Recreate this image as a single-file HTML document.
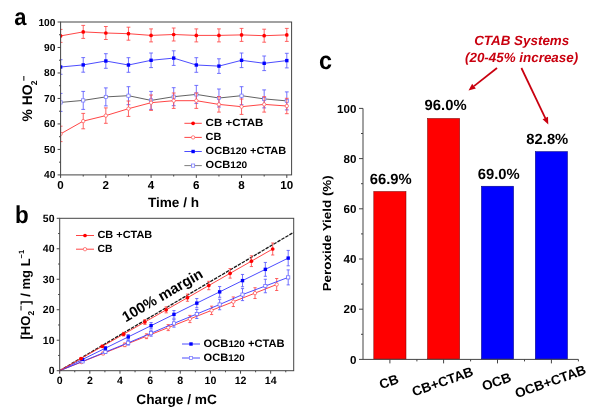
<!DOCTYPE html>
<html><head><meta charset="utf-8"><title>figure</title>
<style>
html,body{margin:0;padding:0;background:#fff;}
body{width:600px;height:413px;overflow:hidden;font-family:"Liberation Sans",sans-serif;}
svg{display:block;filter:blur(0.45px);}
</style></head><body>
<svg width="600" height="413" viewBox="0 0 600 413" text-rendering="geometricPrecision">
<rect width="600" height="413" fill="#fff"/>
<line x1="57.6" y1="174.90" x2="60.6" y2="174.90" stroke="#444444" stroke-width="1"/>
<text x="55.4" y="178.40" font-size="10.2" font-weight="bold" text-anchor="end" font-family="Liberation Sans, sans-serif">40</text>
<line x1="57.6" y1="149.42" x2="60.6" y2="149.42" stroke="#444444" stroke-width="1"/>
<text x="55.4" y="152.92" font-size="10.2" font-weight="bold" text-anchor="end" font-family="Liberation Sans, sans-serif">50</text>
<line x1="57.6" y1="123.93" x2="60.6" y2="123.93" stroke="#444444" stroke-width="1"/>
<text x="55.4" y="127.43" font-size="10.2" font-weight="bold" text-anchor="end" font-family="Liberation Sans, sans-serif">60</text>
<line x1="57.6" y1="98.45" x2="60.6" y2="98.45" stroke="#444444" stroke-width="1"/>
<text x="55.4" y="101.95" font-size="10.2" font-weight="bold" text-anchor="end" font-family="Liberation Sans, sans-serif">70</text>
<line x1="57.6" y1="72.97" x2="60.6" y2="72.97" stroke="#444444" stroke-width="1"/>
<text x="55.4" y="76.47" font-size="10.2" font-weight="bold" text-anchor="end" font-family="Liberation Sans, sans-serif">80</text>
<line x1="57.6" y1="47.48" x2="60.6" y2="47.48" stroke="#444444" stroke-width="1"/>
<text x="55.4" y="50.98" font-size="10.2" font-weight="bold" text-anchor="end" font-family="Liberation Sans, sans-serif">90</text>
<line x1="57.6" y1="22.00" x2="60.6" y2="22.00" stroke="#444444" stroke-width="1"/>
<text x="55.4" y="25.50" font-size="10.2" font-weight="bold" text-anchor="end" font-family="Liberation Sans, sans-serif">100</text>
<line x1="59.0" y1="162.16" x2="60.6" y2="162.16" stroke="#444444" stroke-width="1"/>
<line x1="59.0" y1="136.68" x2="60.6" y2="136.68" stroke="#444444" stroke-width="1"/>
<line x1="59.0" y1="111.19" x2="60.6" y2="111.19" stroke="#444444" stroke-width="1"/>
<line x1="59.0" y1="85.71" x2="60.6" y2="85.71" stroke="#444444" stroke-width="1"/>
<line x1="59.0" y1="60.23" x2="60.6" y2="60.23" stroke="#444444" stroke-width="1"/>
<line x1="59.0" y1="34.74" x2="60.6" y2="34.74" stroke="#444444" stroke-width="1"/>
<line x1="60.60" y1="174.9" x2="60.60" y2="177.9" stroke="#444444" stroke-width="1"/>
<text x="60.60" y="189.4" font-size="11.6" font-weight="bold" text-anchor="middle" font-family="Liberation Sans, sans-serif">0</text>
<line x1="83.22" y1="174.9" x2="83.22" y2="176.5" stroke="#444444" stroke-width="1"/>
<line x1="105.84" y1="174.9" x2="105.84" y2="177.9" stroke="#444444" stroke-width="1"/>
<text x="105.84" y="189.4" font-size="11.6" font-weight="bold" text-anchor="middle" font-family="Liberation Sans, sans-serif">2</text>
<line x1="128.46" y1="174.9" x2="128.46" y2="176.5" stroke="#444444" stroke-width="1"/>
<line x1="151.08" y1="174.9" x2="151.08" y2="177.9" stroke="#444444" stroke-width="1"/>
<text x="151.08" y="189.4" font-size="11.6" font-weight="bold" text-anchor="middle" font-family="Liberation Sans, sans-serif">4</text>
<line x1="173.70" y1="174.9" x2="173.70" y2="176.5" stroke="#444444" stroke-width="1"/>
<line x1="196.32" y1="174.9" x2="196.32" y2="177.9" stroke="#444444" stroke-width="1"/>
<text x="196.32" y="189.4" font-size="11.6" font-weight="bold" text-anchor="middle" font-family="Liberation Sans, sans-serif">6</text>
<line x1="218.94" y1="174.9" x2="218.94" y2="176.5" stroke="#444444" stroke-width="1"/>
<line x1="241.56" y1="174.9" x2="241.56" y2="177.9" stroke="#444444" stroke-width="1"/>
<text x="241.56" y="189.4" font-size="11.6" font-weight="bold" text-anchor="middle" font-family="Liberation Sans, sans-serif">8</text>
<line x1="264.18" y1="174.9" x2="264.18" y2="176.5" stroke="#444444" stroke-width="1"/>
<line x1="286.80" y1="174.9" x2="286.80" y2="177.9" stroke="#444444" stroke-width="1"/>
<text x="286.80" y="189.4" font-size="11.6" font-weight="bold" text-anchor="middle" font-family="Liberation Sans, sans-serif">10</text>
<clipPath id="ca"><rect x="60.6" y="22.0" width="231.00" height="152.90"/></clipPath>
<g clip-path="url(#ca)">
<polyline points="60.60,102.40 83.22,100.40 105.84,96.90 128.46,95.70 151.08,100.40 173.70,96.70 196.32,94.40 218.94,98.00 241.56,95.70 264.18,98.90 286.80,100.90" fill="none" stroke="#505050" stroke-width="0.9"/>
<path d="M60.60 93.40V111.40M58.70 93.40h3.8M58.70 111.40h3.8" stroke="#5a5aff" stroke-width="0.85" fill="none"/>
<path d="M83.22 91.40V109.40M81.32 91.40h3.8M81.32 109.40h3.8" stroke="#5a5aff" stroke-width="0.85" fill="none"/>
<path d="M105.84 87.90V105.90M103.94 87.90h3.8M103.94 105.90h3.8" stroke="#5a5aff" stroke-width="0.85" fill="none"/>
<path d="M128.46 86.70V104.70M126.56 86.70h3.8M126.56 104.70h3.8" stroke="#5a5aff" stroke-width="0.85" fill="none"/>
<path d="M151.08 91.40V109.40M149.18 91.40h3.8M149.18 109.40h3.8" stroke="#5a5aff" stroke-width="0.85" fill="none"/>
<path d="M173.70 87.70V105.70M171.80 87.70h3.8M171.80 105.70h3.8" stroke="#5a5aff" stroke-width="0.85" fill="none"/>
<path d="M196.32 85.40V103.40M194.42 85.40h3.8M194.42 103.40h3.8" stroke="#5a5aff" stroke-width="0.85" fill="none"/>
<path d="M218.94 89.00V107.00M217.04 89.00h3.8M217.04 107.00h3.8" stroke="#5a5aff" stroke-width="0.85" fill="none"/>
<path d="M241.56 86.70V104.70M239.66 86.70h3.8M239.66 104.70h3.8" stroke="#5a5aff" stroke-width="0.85" fill="none"/>
<path d="M264.18 89.90V107.90M262.28 89.90h3.8M262.28 107.90h3.8" stroke="#5a5aff" stroke-width="0.85" fill="none"/>
<path d="M286.80 91.90V109.90M284.90 91.90h3.8M284.90 109.90h3.8" stroke="#5a5aff" stroke-width="0.85" fill="none"/>
<rect x="59.00" y="100.80" width="3.2" height="3.2" fill="#fff" stroke="#7070ff" stroke-width="0.7"/>
<rect x="81.62" y="98.80" width="3.2" height="3.2" fill="#fff" stroke="#7070ff" stroke-width="0.7"/>
<rect x="104.24" y="95.30" width="3.2" height="3.2" fill="#fff" stroke="#7070ff" stroke-width="0.7"/>
<rect x="126.86" y="94.10" width="3.2" height="3.2" fill="#fff" stroke="#7070ff" stroke-width="0.7"/>
<rect x="149.48" y="98.80" width="3.2" height="3.2" fill="#fff" stroke="#7070ff" stroke-width="0.7"/>
<rect x="172.10" y="95.10" width="3.2" height="3.2" fill="#fff" stroke="#7070ff" stroke-width="0.7"/>
<rect x="194.72" y="92.80" width="3.2" height="3.2" fill="#fff" stroke="#7070ff" stroke-width="0.7"/>
<rect x="217.34" y="96.40" width="3.2" height="3.2" fill="#fff" stroke="#7070ff" stroke-width="0.7"/>
<rect x="239.96" y="94.10" width="3.2" height="3.2" fill="#fff" stroke="#7070ff" stroke-width="0.7"/>
<rect x="262.58" y="97.30" width="3.2" height="3.2" fill="#fff" stroke="#7070ff" stroke-width="0.7"/>
<rect x="285.20" y="99.30" width="3.2" height="3.2" fill="#fff" stroke="#7070ff" stroke-width="0.7"/>
<polyline points="60.60,133.90 83.22,121.10 105.84,115.60 128.46,108.70 151.08,102.70 173.70,100.70 196.32,100.70 218.94,104.40 241.56,106.70 264.18,104.40 286.80,106.00" fill="none" stroke="#ff3030" stroke-width="0.9"/>
<path d="M60.60 126.20V141.60M58.70 126.20h3.8M58.70 141.60h3.8" stroke="#ff4848" stroke-width="0.85" fill="none"/>
<path d="M83.22 113.40V128.80M81.32 113.40h3.8M81.32 128.80h3.8" stroke="#ff4848" stroke-width="0.85" fill="none"/>
<path d="M105.84 107.90V123.30M103.94 107.90h3.8M103.94 123.30h3.8" stroke="#ff4848" stroke-width="0.85" fill="none"/>
<path d="M128.46 101.00V116.40M126.56 101.00h3.8M126.56 116.40h3.8" stroke="#ff4848" stroke-width="0.85" fill="none"/>
<path d="M151.08 95.00V110.40M149.18 95.00h3.8M149.18 110.40h3.8" stroke="#ff4848" stroke-width="0.85" fill="none"/>
<path d="M173.70 93.00V108.40M171.80 93.00h3.8M171.80 108.40h3.8" stroke="#ff4848" stroke-width="0.85" fill="none"/>
<path d="M196.32 93.00V108.40M194.42 93.00h3.8M194.42 108.40h3.8" stroke="#ff4848" stroke-width="0.85" fill="none"/>
<path d="M218.94 96.70V112.10M217.04 96.70h3.8M217.04 112.10h3.8" stroke="#ff4848" stroke-width="0.85" fill="none"/>
<path d="M241.56 99.00V114.40M239.66 99.00h3.8M239.66 114.40h3.8" stroke="#ff4848" stroke-width="0.85" fill="none"/>
<path d="M264.18 96.70V112.10M262.28 96.70h3.8M262.28 112.10h3.8" stroke="#ff4848" stroke-width="0.85" fill="none"/>
<path d="M286.80 98.30V113.70M284.90 98.30h3.8M284.90 113.70h3.8" stroke="#ff4848" stroke-width="0.85" fill="none"/>
<circle cx="60.60" cy="133.90" r="1.7" fill="#fff" stroke="#ff5050" stroke-width="0.7"/>
<circle cx="83.22" cy="121.10" r="1.7" fill="#fff" stroke="#ff5050" stroke-width="0.7"/>
<circle cx="105.84" cy="115.60" r="1.7" fill="#fff" stroke="#ff5050" stroke-width="0.7"/>
<circle cx="128.46" cy="108.70" r="1.7" fill="#fff" stroke="#ff5050" stroke-width="0.7"/>
<circle cx="151.08" cy="102.70" r="1.7" fill="#fff" stroke="#ff5050" stroke-width="0.7"/>
<circle cx="173.70" cy="100.70" r="1.7" fill="#fff" stroke="#ff5050" stroke-width="0.7"/>
<circle cx="196.32" cy="100.70" r="1.7" fill="#fff" stroke="#ff5050" stroke-width="0.7"/>
<circle cx="218.94" cy="104.40" r="1.7" fill="#fff" stroke="#ff5050" stroke-width="0.7"/>
<circle cx="241.56" cy="106.70" r="1.7" fill="#fff" stroke="#ff5050" stroke-width="0.7"/>
<circle cx="264.18" cy="104.40" r="1.7" fill="#fff" stroke="#ff5050" stroke-width="0.7"/>
<circle cx="286.80" cy="106.00" r="1.7" fill="#fff" stroke="#ff5050" stroke-width="0.7"/>
<polyline points="60.60,67.00 83.22,64.90 105.84,61.00 128.46,65.00 151.08,60.30 173.70,58.10 196.32,65.00 218.94,66.10 241.56,60.30 264.18,63.30 286.80,60.60" fill="none" stroke="#3838ff" stroke-width="0.9"/>
<path d="M60.60 59.70V74.30M58.70 59.70h3.8M58.70 74.30h3.8" stroke="#5a5aff" stroke-width="0.85" fill="none"/>
<path d="M83.22 57.60V72.20M81.32 57.60h3.8M81.32 72.20h3.8" stroke="#5a5aff" stroke-width="0.85" fill="none"/>
<path d="M105.84 53.70V68.30M103.94 53.70h3.8M103.94 68.30h3.8" stroke="#5a5aff" stroke-width="0.85" fill="none"/>
<path d="M128.46 57.70V72.30M126.56 57.70h3.8M126.56 72.30h3.8" stroke="#5a5aff" stroke-width="0.85" fill="none"/>
<path d="M151.08 53.00V67.60M149.18 53.00h3.8M149.18 67.60h3.8" stroke="#5a5aff" stroke-width="0.85" fill="none"/>
<path d="M173.70 50.80V65.40M171.80 50.80h3.8M171.80 65.40h3.8" stroke="#5a5aff" stroke-width="0.85" fill="none"/>
<path d="M196.32 57.70V72.30M194.42 57.70h3.8M194.42 72.30h3.8" stroke="#5a5aff" stroke-width="0.85" fill="none"/>
<path d="M218.94 58.80V73.40M217.04 58.80h3.8M217.04 73.40h3.8" stroke="#5a5aff" stroke-width="0.85" fill="none"/>
<path d="M241.56 53.00V67.60M239.66 53.00h3.8M239.66 67.60h3.8" stroke="#5a5aff" stroke-width="0.85" fill="none"/>
<path d="M264.18 56.00V70.60M262.28 56.00h3.8M262.28 70.60h3.8" stroke="#5a5aff" stroke-width="0.85" fill="none"/>
<path d="M286.80 53.30V67.90M284.90 53.30h3.8M284.90 67.90h3.8" stroke="#5a5aff" stroke-width="0.85" fill="none"/>
<rect x="58.90" y="65.30" width="3.4" height="3.4" fill="#0000ff"/>
<rect x="81.52" y="63.20" width="3.4" height="3.4" fill="#0000ff"/>
<rect x="104.14" y="59.30" width="3.4" height="3.4" fill="#0000ff"/>
<rect x="126.76" y="63.30" width="3.4" height="3.4" fill="#0000ff"/>
<rect x="149.38" y="58.60" width="3.4" height="3.4" fill="#0000ff"/>
<rect x="172.00" y="56.40" width="3.4" height="3.4" fill="#0000ff"/>
<rect x="194.62" y="63.30" width="3.4" height="3.4" fill="#0000ff"/>
<rect x="217.24" y="64.40" width="3.4" height="3.4" fill="#0000ff"/>
<rect x="239.86" y="58.60" width="3.4" height="3.4" fill="#0000ff"/>
<rect x="262.48" y="61.60" width="3.4" height="3.4" fill="#0000ff"/>
<rect x="285.10" y="58.90" width="3.4" height="3.4" fill="#0000ff"/>
<polyline points="60.60,35.90 83.22,31.90 105.84,33.00 128.46,33.70 151.08,35.40 173.70,34.50 196.32,35.40 218.94,35.40 241.56,34.90 264.18,35.70 286.80,34.90" fill="none" stroke="#ff3030" stroke-width="0.9"/>
<path d="M60.60 29.40V42.40M58.70 29.40h3.8M58.70 42.40h3.8" stroke="#ff4848" stroke-width="0.85" fill="none"/>
<path d="M83.22 25.40V38.40M81.32 25.40h3.8M81.32 38.40h3.8" stroke="#ff4848" stroke-width="0.85" fill="none"/>
<path d="M105.84 26.50V39.50M103.94 26.50h3.8M103.94 39.50h3.8" stroke="#ff4848" stroke-width="0.85" fill="none"/>
<path d="M128.46 27.20V40.20M126.56 27.20h3.8M126.56 40.20h3.8" stroke="#ff4848" stroke-width="0.85" fill="none"/>
<path d="M151.08 28.90V41.90M149.18 28.90h3.8M149.18 41.90h3.8" stroke="#ff4848" stroke-width="0.85" fill="none"/>
<path d="M173.70 28.00V41.00M171.80 28.00h3.8M171.80 41.00h3.8" stroke="#ff4848" stroke-width="0.85" fill="none"/>
<path d="M196.32 28.90V41.90M194.42 28.90h3.8M194.42 41.90h3.8" stroke="#ff4848" stroke-width="0.85" fill="none"/>
<path d="M218.94 28.90V41.90M217.04 28.90h3.8M217.04 41.90h3.8" stroke="#ff4848" stroke-width="0.85" fill="none"/>
<path d="M241.56 28.40V41.40M239.66 28.40h3.8M239.66 41.40h3.8" stroke="#ff4848" stroke-width="0.85" fill="none"/>
<path d="M264.18 29.20V42.20M262.28 29.20h3.8M262.28 42.20h3.8" stroke="#ff4848" stroke-width="0.85" fill="none"/>
<path d="M286.80 28.40V41.40M284.90 28.40h3.8M284.90 41.40h3.8" stroke="#ff4848" stroke-width="0.85" fill="none"/>
<circle cx="60.60" cy="35.90" r="1.85" fill="#ff0000"/>
<circle cx="83.22" cy="31.90" r="1.85" fill="#ff0000"/>
<circle cx="105.84" cy="33.00" r="1.85" fill="#ff0000"/>
<circle cx="128.46" cy="33.70" r="1.85" fill="#ff0000"/>
<circle cx="151.08" cy="35.40" r="1.85" fill="#ff0000"/>
<circle cx="173.70" cy="34.50" r="1.85" fill="#ff0000"/>
<circle cx="196.32" cy="35.40" r="1.85" fill="#ff0000"/>
<circle cx="218.94" cy="35.40" r="1.85" fill="#ff0000"/>
<circle cx="241.56" cy="34.90" r="1.85" fill="#ff0000"/>
<circle cx="264.18" cy="35.70" r="1.85" fill="#ff0000"/>
<circle cx="286.80" cy="34.90" r="1.85" fill="#ff0000"/>
</g>
<rect x="60.6" y="22.0" width="231.00" height="152.90" fill="none" stroke="#444444" stroke-width="1"/>
<line x1="184.4" y1="123.3" x2="201.8" y2="123.3" stroke="#ff3030" stroke-width="0.9"/><circle cx="193.10000000000002" cy="123.3" r="1.85" fill="#ff0000"/><text x="205.6" y="126.00" font-size="10.4" font-weight="bold" textLength="57.8" lengthAdjust="spacingAndGlyphs" font-family="Liberation Sans, sans-serif">CB +CTAB</text>
<line x1="184.4" y1="137.4" x2="201.8" y2="137.4" stroke="#ff3030" stroke-width="0.9"/><circle cx="193.10000000000002" cy="137.4" r="1.7" fill="#fff" stroke="#ff5050" stroke-width="0.7"/><text x="205.6" y="140.10" font-size="10.4" font-weight="bold" textLength="15.8" lengthAdjust="spacingAndGlyphs" font-family="Liberation Sans, sans-serif">CB</text>
<line x1="184.4" y1="151.5" x2="201.8" y2="151.5" stroke="#3838ff" stroke-width="0.9"/><rect x="191.40" y="149.80" width="3.4" height="3.4" fill="#0000ff"/><text x="205.6" y="154.20" font-size="10.4" font-weight="bold" textLength="80.7" lengthAdjust="spacingAndGlyphs" font-family="Liberation Sans, sans-serif">OCB<tspan font-size="9.5">120</tspan> +CTAB</text>
<line x1="184.4" y1="165.6" x2="201.8" y2="165.6" stroke="#707070" stroke-width="0.9"/><rect x="191.50" y="164.00" width="3.2" height="3.2" fill="#fff" stroke="#7070ff" stroke-width="0.7"/><text x="205.6" y="168.30" font-size="10.4" font-weight="bold" textLength="41.6" lengthAdjust="spacingAndGlyphs" font-family="Liberation Sans, sans-serif">OCB<tspan font-size="9.5">120</tspan></text>
<text x="14.2" y="25" font-size="23.6" font-weight="bold" textLength="12.2" lengthAdjust="spacingAndGlyphs" font-family="Liberation Sans, sans-serif">a</text>
<text x="173.5" y="206.8" font-size="13.6" font-weight="bold" text-anchor="middle" font-family="Liberation Sans, sans-serif">Time / h</text>
<text transform="translate(32,121.5) rotate(-90)" font-size="13.9" font-weight="bold" font-family="Liberation Sans, sans-serif">% HO<tspan font-size="8.5" dy="4.6" dx="-0.9">2</tspan><tspan font-size="9.5" dy="-10.1" dx="-0.6">−</tspan></text>
<line x1="56.7" y1="370.70" x2="59.7" y2="370.70" stroke="#444444" stroke-width="1"/>
<text x="54.5" y="374.30" font-size="10.5" font-weight="bold" text-anchor="end" font-family="Liberation Sans, sans-serif">0</text>
<line x1="56.7" y1="340.22" x2="59.7" y2="340.22" stroke="#444444" stroke-width="1"/>
<text x="54.5" y="343.82" font-size="10.5" font-weight="bold" text-anchor="end" font-family="Liberation Sans, sans-serif">10</text>
<line x1="56.7" y1="309.74" x2="59.7" y2="309.74" stroke="#444444" stroke-width="1"/>
<text x="54.5" y="313.34" font-size="10.5" font-weight="bold" text-anchor="end" font-family="Liberation Sans, sans-serif">20</text>
<line x1="56.7" y1="279.26" x2="59.7" y2="279.26" stroke="#444444" stroke-width="1"/>
<text x="54.5" y="282.86" font-size="10.5" font-weight="bold" text-anchor="end" font-family="Liberation Sans, sans-serif">30</text>
<line x1="56.7" y1="248.78" x2="59.7" y2="248.78" stroke="#444444" stroke-width="1"/>
<text x="54.5" y="252.38" font-size="10.5" font-weight="bold" text-anchor="end" font-family="Liberation Sans, sans-serif">40</text>
<line x1="56.7" y1="218.30" x2="59.7" y2="218.30" stroke="#444444" stroke-width="1"/>
<text x="54.5" y="221.90" font-size="10.5" font-weight="bold" text-anchor="end" font-family="Liberation Sans, sans-serif">50</text>
<line x1="58.1" y1="355.46" x2="59.7" y2="355.46" stroke="#444444" stroke-width="1"/>
<line x1="58.1" y1="324.98" x2="59.7" y2="324.98" stroke="#444444" stroke-width="1"/>
<line x1="58.1" y1="294.50" x2="59.7" y2="294.50" stroke="#444444" stroke-width="1"/>
<line x1="58.1" y1="264.02" x2="59.7" y2="264.02" stroke="#444444" stroke-width="1"/>
<line x1="58.1" y1="233.54" x2="59.7" y2="233.54" stroke="#444444" stroke-width="1"/>
<line x1="59.70" y1="370.7" x2="59.70" y2="373.7" stroke="#444444" stroke-width="1"/>
<text x="59.70" y="384.4" font-size="10.6" font-weight="bold" text-anchor="middle" font-family="Liberation Sans, sans-serif">0</text>
<line x1="74.77" y1="370.7" x2="74.77" y2="372.3" stroke="#444444" stroke-width="1"/>
<line x1="89.84" y1="370.7" x2="89.84" y2="373.7" stroke="#444444" stroke-width="1"/>
<text x="89.84" y="384.4" font-size="10.6" font-weight="bold" text-anchor="middle" font-family="Liberation Sans, sans-serif">2</text>
<line x1="104.91" y1="370.7" x2="104.91" y2="372.3" stroke="#444444" stroke-width="1"/>
<line x1="119.98" y1="370.7" x2="119.98" y2="373.7" stroke="#444444" stroke-width="1"/>
<text x="119.98" y="384.4" font-size="10.6" font-weight="bold" text-anchor="middle" font-family="Liberation Sans, sans-serif">4</text>
<line x1="135.05" y1="370.7" x2="135.05" y2="372.3" stroke="#444444" stroke-width="1"/>
<line x1="150.12" y1="370.7" x2="150.12" y2="373.7" stroke="#444444" stroke-width="1"/>
<text x="150.12" y="384.4" font-size="10.6" font-weight="bold" text-anchor="middle" font-family="Liberation Sans, sans-serif">6</text>
<line x1="165.19" y1="370.7" x2="165.19" y2="372.3" stroke="#444444" stroke-width="1"/>
<line x1="180.26" y1="370.7" x2="180.26" y2="373.7" stroke="#444444" stroke-width="1"/>
<text x="180.26" y="384.4" font-size="10.6" font-weight="bold" text-anchor="middle" font-family="Liberation Sans, sans-serif">8</text>
<line x1="195.33" y1="370.7" x2="195.33" y2="372.3" stroke="#444444" stroke-width="1"/>
<line x1="210.40" y1="370.7" x2="210.40" y2="373.7" stroke="#444444" stroke-width="1"/>
<text x="210.40" y="384.4" font-size="10.6" font-weight="bold" text-anchor="middle" font-family="Liberation Sans, sans-serif">10</text>
<line x1="225.47" y1="370.7" x2="225.47" y2="372.3" stroke="#444444" stroke-width="1"/>
<line x1="240.54" y1="370.7" x2="240.54" y2="373.7" stroke="#444444" stroke-width="1"/>
<text x="240.54" y="384.4" font-size="10.6" font-weight="bold" text-anchor="middle" font-family="Liberation Sans, sans-serif">12</text>
<line x1="255.61" y1="370.7" x2="255.61" y2="372.3" stroke="#444444" stroke-width="1"/>
<line x1="270.68" y1="370.7" x2="270.68" y2="373.7" stroke="#444444" stroke-width="1"/>
<text x="270.68" y="384.4" font-size="10.6" font-weight="bold" text-anchor="middle" font-family="Liberation Sans, sans-serif">14</text>
<line x1="285.75" y1="370.7" x2="285.75" y2="372.3" stroke="#444444" stroke-width="1"/>
<line x1="59.7" y1="370.7" x2="293.7" y2="232.3" stroke="#1a1a1a" stroke-width="1.3" stroke-dasharray="3.5 1.1"/>
<polyline points="59.70,370.70 81.40,362.08 103.10,353.46 124.80,344.84 146.50,336.22 168.20,327.60 189.90,318.98 211.60,310.36 233.30,301.74 255.00,293.12 276.70,284.50" fill="none" stroke="#ff3030" stroke-width="0.9"/>
<path d="M81.40 361.48V362.68M79.80 361.48h3.2M79.80 362.68h3.2" stroke="#ff4848" stroke-width="0.85" fill="none"/>
<path d="M103.10 352.26V354.66M101.50 352.26h3.2M101.50 354.66h3.2" stroke="#ff4848" stroke-width="0.85" fill="none"/>
<path d="M124.80 343.04V346.64M123.20 343.04h3.2M123.20 346.64h3.2" stroke="#ff4848" stroke-width="0.85" fill="none"/>
<path d="M146.50 333.82V338.62M144.90 333.82h3.2M144.90 338.62h3.2" stroke="#ff4848" stroke-width="0.85" fill="none"/>
<path d="M168.20 324.60V330.60M166.60 324.60h3.2M166.60 330.60h3.2" stroke="#ff4848" stroke-width="0.85" fill="none"/>
<path d="M189.90 315.38V322.58M188.30 315.38h3.2M188.30 322.58h3.2" stroke="#ff4848" stroke-width="0.85" fill="none"/>
<path d="M211.60 306.16V314.56M210.00 306.16h3.2M210.00 314.56h3.2" stroke="#ff4848" stroke-width="0.85" fill="none"/>
<path d="M233.30 296.94V306.54M231.70 296.94h3.2M231.70 306.54h3.2" stroke="#ff4848" stroke-width="0.85" fill="none"/>
<path d="M255.00 287.72V298.52M253.40 287.72h3.2M253.40 298.52h3.2" stroke="#ff4848" stroke-width="0.85" fill="none"/>
<path d="M276.70 278.50V290.50M275.10 278.50h3.2M275.10 290.50h3.2" stroke="#ff4848" stroke-width="0.85" fill="none"/>
<circle cx="81.40" cy="362.08" r="1.7" fill="#fff" stroke="#ff5050" stroke-width="0.7"/>
<circle cx="103.10" cy="353.46" r="1.7" fill="#fff" stroke="#ff5050" stroke-width="0.7"/>
<circle cx="124.80" cy="344.84" r="1.7" fill="#fff" stroke="#ff5050" stroke-width="0.7"/>
<circle cx="146.50" cy="336.22" r="1.7" fill="#fff" stroke="#ff5050" stroke-width="0.7"/>
<circle cx="168.20" cy="327.60" r="1.7" fill="#fff" stroke="#ff5050" stroke-width="0.7"/>
<circle cx="189.90" cy="318.98" r="1.7" fill="#fff" stroke="#ff5050" stroke-width="0.7"/>
<circle cx="211.60" cy="310.36" r="1.7" fill="#fff" stroke="#ff5050" stroke-width="0.7"/>
<circle cx="233.30" cy="301.74" r="1.7" fill="#fff" stroke="#ff5050" stroke-width="0.7"/>
<circle cx="255.00" cy="293.12" r="1.7" fill="#fff" stroke="#ff5050" stroke-width="0.7"/>
<circle cx="276.70" cy="284.50" r="1.7" fill="#fff" stroke="#ff5050" stroke-width="0.7"/>
<polyline points="59.70,370.70 82.55,361.40 105.40,352.00 128.25,342.80 151.10,333.20 173.95,323.40 196.80,314.00 219.65,304.50 242.50,294.60 265.35,286.00 288.20,277.40" fill="none" stroke="#3838ff" stroke-width="0.9"/>
<path d="M82.55 360.65V362.15M80.95 360.65h3.2M80.95 362.15h3.2" stroke="#5a5aff" stroke-width="0.85" fill="none"/>
<path d="M105.40 350.50V353.50M103.80 350.50h3.2M103.80 353.50h3.2" stroke="#5a5aff" stroke-width="0.85" fill="none"/>
<path d="M128.25 340.55V345.05M126.65 340.55h3.2M126.65 345.05h3.2" stroke="#5a5aff" stroke-width="0.85" fill="none"/>
<path d="M151.10 330.20V336.20M149.50 330.20h3.2M149.50 336.20h3.2" stroke="#5a5aff" stroke-width="0.85" fill="none"/>
<path d="M173.95 319.65V327.15M172.35 319.65h3.2M172.35 327.15h3.2" stroke="#5a5aff" stroke-width="0.85" fill="none"/>
<path d="M196.80 309.50V318.50M195.20 309.50h3.2M195.20 318.50h3.2" stroke="#5a5aff" stroke-width="0.85" fill="none"/>
<path d="M219.65 299.25V309.75M218.05 299.25h3.2M218.05 309.75h3.2" stroke="#5a5aff" stroke-width="0.85" fill="none"/>
<path d="M242.50 288.60V300.60M240.90 288.60h3.2M240.90 300.60h3.2" stroke="#5a5aff" stroke-width="0.85" fill="none"/>
<path d="M265.35 279.25V292.75M263.75 279.25h3.2M263.75 292.75h3.2" stroke="#5a5aff" stroke-width="0.85" fill="none"/>
<path d="M288.20 269.90V284.90M286.60 269.90h3.2M286.60 284.90h3.2" stroke="#5a5aff" stroke-width="0.85" fill="none"/>
<rect x="80.95" y="359.80" width="3.2" height="3.2" fill="#fff" stroke="#6060ff" stroke-width="0.7"/>
<rect x="103.80" y="350.40" width="3.2" height="3.2" fill="#fff" stroke="#6060ff" stroke-width="0.7"/>
<rect x="126.65" y="341.20" width="3.2" height="3.2" fill="#fff" stroke="#6060ff" stroke-width="0.7"/>
<rect x="149.50" y="331.60" width="3.2" height="3.2" fill="#fff" stroke="#6060ff" stroke-width="0.7"/>
<rect x="172.35" y="321.80" width="3.2" height="3.2" fill="#fff" stroke="#6060ff" stroke-width="0.7"/>
<rect x="195.20" y="312.40" width="3.2" height="3.2" fill="#fff" stroke="#6060ff" stroke-width="0.7"/>
<rect x="218.05" y="302.90" width="3.2" height="3.2" fill="#fff" stroke="#6060ff" stroke-width="0.7"/>
<rect x="240.90" y="293.00" width="3.2" height="3.2" fill="#fff" stroke="#6060ff" stroke-width="0.7"/>
<rect x="263.75" y="284.40" width="3.2" height="3.2" fill="#fff" stroke="#6060ff" stroke-width="0.7"/>
<rect x="286.60" y="275.80" width="3.2" height="3.2" fill="#fff" stroke="#6060ff" stroke-width="0.7"/>
<polyline points="59.70,370.70 82.55,359.44 105.40,348.18 128.25,336.92 151.10,325.66 173.95,314.40 196.80,303.14 219.65,291.88 242.50,280.62 265.35,269.36 288.20,258.10" fill="none" stroke="#3838ff" stroke-width="0.9"/>
<path d="M82.55 358.67V360.21M80.95 358.67h3.2M80.95 360.21h3.2" stroke="#5a5aff" stroke-width="0.85" fill="none"/>
<path d="M105.40 346.64V349.72M103.80 346.64h3.2M103.80 349.72h3.2" stroke="#5a5aff" stroke-width="0.85" fill="none"/>
<path d="M128.25 334.61V339.23M126.65 334.61h3.2M126.65 339.23h3.2" stroke="#5a5aff" stroke-width="0.85" fill="none"/>
<path d="M151.10 322.58V328.74M149.50 322.58h3.2M149.50 328.74h3.2" stroke="#5a5aff" stroke-width="0.85" fill="none"/>
<path d="M173.95 310.55V318.25M172.35 310.55h3.2M172.35 318.25h3.2" stroke="#5a5aff" stroke-width="0.85" fill="none"/>
<path d="M196.80 298.52V307.76M195.20 298.52h3.2M195.20 307.76h3.2" stroke="#5a5aff" stroke-width="0.85" fill="none"/>
<path d="M219.65 286.49V297.27M218.05 286.49h3.2M218.05 297.27h3.2" stroke="#5a5aff" stroke-width="0.85" fill="none"/>
<path d="M242.50 274.46V286.78M240.90 274.46h3.2M240.90 286.78h3.2" stroke="#5a5aff" stroke-width="0.85" fill="none"/>
<path d="M265.35 262.43V276.29M263.75 262.43h3.2M263.75 276.29h3.2" stroke="#5a5aff" stroke-width="0.85" fill="none"/>
<path d="M288.20 250.40V265.80M286.60 250.40h3.2M286.60 265.80h3.2" stroke="#5a5aff" stroke-width="0.85" fill="none"/>
<rect x="80.85" y="357.74" width="3.4" height="3.4" fill="#0000ff"/>
<rect x="103.70" y="346.48" width="3.4" height="3.4" fill="#0000ff"/>
<rect x="126.55" y="335.22" width="3.4" height="3.4" fill="#0000ff"/>
<rect x="149.40" y="323.96" width="3.4" height="3.4" fill="#0000ff"/>
<rect x="172.25" y="312.70" width="3.4" height="3.4" fill="#0000ff"/>
<rect x="195.10" y="301.44" width="3.4" height="3.4" fill="#0000ff"/>
<rect x="217.95" y="290.18" width="3.4" height="3.4" fill="#0000ff"/>
<rect x="240.80" y="278.92" width="3.4" height="3.4" fill="#0000ff"/>
<rect x="263.65" y="267.66" width="3.4" height="3.4" fill="#0000ff"/>
<rect x="286.50" y="256.40" width="3.4" height="3.4" fill="#0000ff"/>
<polyline points="59.70,370.70 81.00,358.53 102.30,346.36 123.60,334.19 144.90,322.02 166.20,309.85 187.50,297.68 208.80,285.51 230.10,273.34 251.40,261.17 272.70,249.00" fill="none" stroke="#ff3030" stroke-width="0.9"/>
<path d="M81.00 357.93V359.13M79.40 357.93h3.2M79.40 359.13h3.2" stroke="#ff4848" stroke-width="0.85" fill="none"/>
<path d="M102.30 345.16V347.56M100.70 345.16h3.2M100.70 347.56h3.2" stroke="#ff4848" stroke-width="0.85" fill="none"/>
<path d="M123.60 332.39V335.99M122.00 332.39h3.2M122.00 335.99h3.2" stroke="#ff4848" stroke-width="0.85" fill="none"/>
<path d="M144.90 319.62V324.42M143.30 319.62h3.2M143.30 324.42h3.2" stroke="#ff4848" stroke-width="0.85" fill="none"/>
<path d="M166.20 306.85V312.85M164.60 306.85h3.2M164.60 312.85h3.2" stroke="#ff4848" stroke-width="0.85" fill="none"/>
<path d="M187.50 294.08V301.28M185.90 294.08h3.2M185.90 301.28h3.2" stroke="#ff4848" stroke-width="0.85" fill="none"/>
<path d="M208.80 281.31V289.71M207.20 281.31h3.2M207.20 289.71h3.2" stroke="#ff4848" stroke-width="0.85" fill="none"/>
<path d="M230.10 268.54V278.14M228.50 268.54h3.2M228.50 278.14h3.2" stroke="#ff4848" stroke-width="0.85" fill="none"/>
<path d="M251.40 255.77V266.57M249.80 255.77h3.2M249.80 266.57h3.2" stroke="#ff4848" stroke-width="0.85" fill="none"/>
<path d="M272.70 243.00V255.00M271.10 243.00h3.2M271.10 255.00h3.2" stroke="#ff4848" stroke-width="0.85" fill="none"/>
<circle cx="81.00" cy="358.53" r="1.85" fill="#ff0000"/>
<circle cx="102.30" cy="346.36" r="1.85" fill="#ff0000"/>
<circle cx="123.60" cy="334.19" r="1.85" fill="#ff0000"/>
<circle cx="144.90" cy="322.02" r="1.85" fill="#ff0000"/>
<circle cx="166.20" cy="309.85" r="1.85" fill="#ff0000"/>
<circle cx="187.50" cy="297.68" r="1.85" fill="#ff0000"/>
<circle cx="208.80" cy="285.51" r="1.85" fill="#ff0000"/>
<circle cx="230.10" cy="273.34" r="1.85" fill="#ff0000"/>
<circle cx="251.40" cy="261.17" r="1.85" fill="#ff0000"/>
<circle cx="272.70" cy="249.00" r="1.85" fill="#ff0000"/>
<rect x="59.7" y="218.3" width="234.00" height="152.40" fill="none" stroke="#444444" stroke-width="1"/>
<line x1="76" y1="235.5" x2="94.0" y2="235.5" stroke="#ff3030" stroke-width="0.9"/><circle cx="85.0" cy="235.5" r="1.85" fill="#ff0000"/><text x="97.4" y="238.20" font-size="10.4" font-weight="bold" textLength="54.9" lengthAdjust="spacingAndGlyphs" font-family="Liberation Sans, sans-serif">CB +CTAB</text>
<line x1="76" y1="249.2" x2="94.0" y2="249.2" stroke="#ff3030" stroke-width="0.9"/><circle cx="85.0" cy="249.2" r="1.7" fill="#fff" stroke="#ff5050" stroke-width="0.7"/><text x="97.4" y="251.90" font-size="10.4" font-weight="bold" textLength="15.0" lengthAdjust="spacingAndGlyphs" font-family="Liberation Sans, sans-serif">CB</text>
<line x1="182" y1="344" x2="200" y2="344" stroke="#3838ff" stroke-width="0.9"/><rect x="189.30" y="342.30" width="3.4" height="3.4" fill="#0000ff"/><text x="203.6" y="346.70" font-size="10.8" font-weight="bold" textLength="81" lengthAdjust="spacingAndGlyphs" font-family="Liberation Sans, sans-serif">OCB<tspan font-size="9.5">120</tspan> +CTAB</text>
<line x1="182" y1="358" x2="200" y2="358" stroke="#3838ff" stroke-width="0.9"/><rect x="189.40" y="356.40" width="3.2" height="3.2" fill="#fff" stroke="#7070ff" stroke-width="0.7"/><text x="203.6" y="360.70" font-size="10.8" font-weight="bold" textLength="41" lengthAdjust="spacingAndGlyphs" font-family="Liberation Sans, sans-serif">OCB<tspan font-size="9.5">120</tspan></text>
<text transform="translate(125.7,322.4) rotate(-30.3)" font-size="14.7" font-weight="bold" font-family="Liberation Sans, sans-serif">100% margin</text>
<text x="15.0" y="223" font-size="24.4" font-weight="bold" textLength="13.7" lengthAdjust="spacingAndGlyphs" font-family="Liberation Sans, sans-serif">b</text>
<text x="176.6" y="403.5" font-size="13.7" font-weight="bold" text-anchor="middle" font-family="Liberation Sans, sans-serif">Charge / mC</text>
<text transform="translate(29.7,339.5) rotate(-90)" font-size="13.05" font-weight="bold" font-family="Liberation Sans, sans-serif">[HO<tspan font-size="8.5" dy="4.2">2</tspan><tspan font-size="9" dy="-10.2" dx="0.2">−</tspan><tspan dy="6" dx="0.6">] / mg L</tspan><tspan font-size="7.6" dy="-5.6">−1</tspan></text>
<path d="M363.0 108.4V359.4H578.4" fill="none" stroke="#444444" stroke-width="1"/>
<line x1="359.0" y1="359.40" x2="363.0" y2="359.40" stroke="#444444" stroke-width="1"/>
<text x="356.4" y="363.50" font-size="11.6" font-weight="bold" text-anchor="end" font-family="Liberation Sans, sans-serif">0</text>
<line x1="359.0" y1="309.20" x2="363.0" y2="309.20" stroke="#444444" stroke-width="1"/>
<text x="356.4" y="313.30" font-size="11.6" font-weight="bold" text-anchor="end" font-family="Liberation Sans, sans-serif">20</text>
<line x1="359.0" y1="259.00" x2="363.0" y2="259.00" stroke="#444444" stroke-width="1"/>
<text x="356.4" y="263.10" font-size="11.6" font-weight="bold" text-anchor="end" font-family="Liberation Sans, sans-serif">40</text>
<line x1="359.0" y1="208.80" x2="363.0" y2="208.80" stroke="#444444" stroke-width="1"/>
<text x="356.4" y="212.90" font-size="11.6" font-weight="bold" text-anchor="end" font-family="Liberation Sans, sans-serif">60</text>
<line x1="359.0" y1="158.60" x2="363.0" y2="158.60" stroke="#444444" stroke-width="1"/>
<text x="356.4" y="162.70" font-size="11.6" font-weight="bold" text-anchor="end" font-family="Liberation Sans, sans-serif">80</text>
<line x1="359.0" y1="108.40" x2="363.0" y2="108.40" stroke="#444444" stroke-width="1"/>
<text x="356.4" y="112.50" font-size="11.6" font-weight="bold" text-anchor="end" font-family="Liberation Sans, sans-serif">100</text>
<line x1="361.0" y1="334.30" x2="363.0" y2="334.30" stroke="#444444" stroke-width="1"/>
<line x1="361.0" y1="284.10" x2="363.0" y2="284.10" stroke="#444444" stroke-width="1"/>
<line x1="361.0" y1="233.90" x2="363.0" y2="233.90" stroke="#444444" stroke-width="1"/>
<line x1="361.0" y1="183.70" x2="363.0" y2="183.70" stroke="#444444" stroke-width="1"/>
<line x1="361.0" y1="133.50" x2="363.0" y2="133.50" stroke="#444444" stroke-width="1"/>
<line x1="389.9" y1="359.4" x2="389.9" y2="363.4" stroke="#444444" stroke-width="1"/>
<line x1="416.9" y1="359.4" x2="416.9" y2="361.4" stroke="#444444" stroke-width="1"/>
<line x1="443.6" y1="359.4" x2="443.6" y2="363.4" stroke="#444444" stroke-width="1"/>
<line x1="470.6" y1="359.4" x2="470.6" y2="361.4" stroke="#444444" stroke-width="1"/>
<line x1="497.5" y1="359.4" x2="497.5" y2="363.4" stroke="#444444" stroke-width="1"/>
<line x1="524.5" y1="359.4" x2="524.5" y2="361.4" stroke="#444444" stroke-width="1"/>
<line x1="551.4" y1="359.4" x2="551.4" y2="363.4" stroke="#444444" stroke-width="1"/>
<line x1="578.4" y1="359.4" x2="578.4" y2="361.4" stroke="#444444" stroke-width="1"/>
<rect x="373.80" y="191.48" width="32.2" height="167.42" fill="#ff0000" stroke="#700000" stroke-width="0.5"/>
<text x="390.7" y="184.3" font-size="14.8" font-weight="bold" text-anchor="middle" font-family="Liberation Sans, sans-serif">66.9%</text>
<text transform="translate(390.5,385.9) rotate(-19.5)" font-size="13.5" font-weight="bold" text-anchor="middle" font-family="Liberation Sans, sans-serif">CB</text>
<rect x="427.50" y="118.44" width="32.2" height="240.46" fill="#ff0000" stroke="#700000" stroke-width="0.5"/>
<text x="445.6" y="109.8" font-size="14.8" font-weight="bold" text-anchor="middle" font-family="Liberation Sans, sans-serif">96.0%</text>
<text transform="translate(444.20000000000005,385.9) rotate(-19.5)" font-size="13.5" font-weight="bold" text-anchor="middle" font-family="Liberation Sans, sans-serif">CB+CTAB</text>
<rect x="481.40" y="186.21" width="32.2" height="172.69" fill="#0000ff" stroke="#000070" stroke-width="0.5"/>
<text x="498.7" y="178.8" font-size="14.8" font-weight="bold" text-anchor="middle" font-family="Liberation Sans, sans-serif">69.0%</text>
<text transform="translate(498.1,385.9) rotate(-19.5)" font-size="13.5" font-weight="bold" text-anchor="middle" font-family="Liberation Sans, sans-serif">OCB</text>
<rect x="535.30" y="151.57" width="32.2" height="207.33" fill="#0000ff" stroke="#000070" stroke-width="0.5"/>
<text x="547.3" y="143.8" font-size="14.8" font-weight="bold" text-anchor="middle" font-family="Liberation Sans, sans-serif">82.8%</text>
<text transform="translate(552.0,385.9) rotate(-19.5)" font-size="13.5" font-weight="bold" text-anchor="middle" font-family="Liberation Sans, sans-serif">OCB+CTAB</text>
<text transform="translate(331.3,233.3) rotate(-90)" font-size="11.6" font-weight="bold" text-anchor="middle" textLength="116" lengthAdjust="spacingAndGlyphs" font-family="Liberation Sans, sans-serif">Peroxide Yield (%)</text>
<text x="318.9" y="69" font-size="25" font-weight="bold" textLength="13" lengthAdjust="spacingAndGlyphs" font-family="Liberation Sans, sans-serif">c</text>
<text x="521.7" y="45.3" font-size="13.4" font-weight="bold" font-style="italic" text-anchor="middle" fill="#c9000f" font-family="Liberation Sans, sans-serif">CTAB Systems</text>
<text x="521.6" y="62" font-size="13.4" font-weight="bold" font-style="italic" text-anchor="middle" fill="#c9000f" font-family="Liberation Sans, sans-serif">(20-45% increase)</text>
<line x1="497" y1="68" x2="474.00" y2="86.07" stroke="#c9000f" stroke-width="1.75"/><polygon points="468.5,90.4 472.15,83.72 475.86,88.43" fill="#c9000f"/>
<line x1="521.4" y1="68" x2="545.29" y2="118.08" stroke="#c9000f" stroke-width="1.75"/><polygon points="548.3,124.4 542.58,119.37 547.99,116.79" fill="#c9000f"/>
</svg>
</body></html>
